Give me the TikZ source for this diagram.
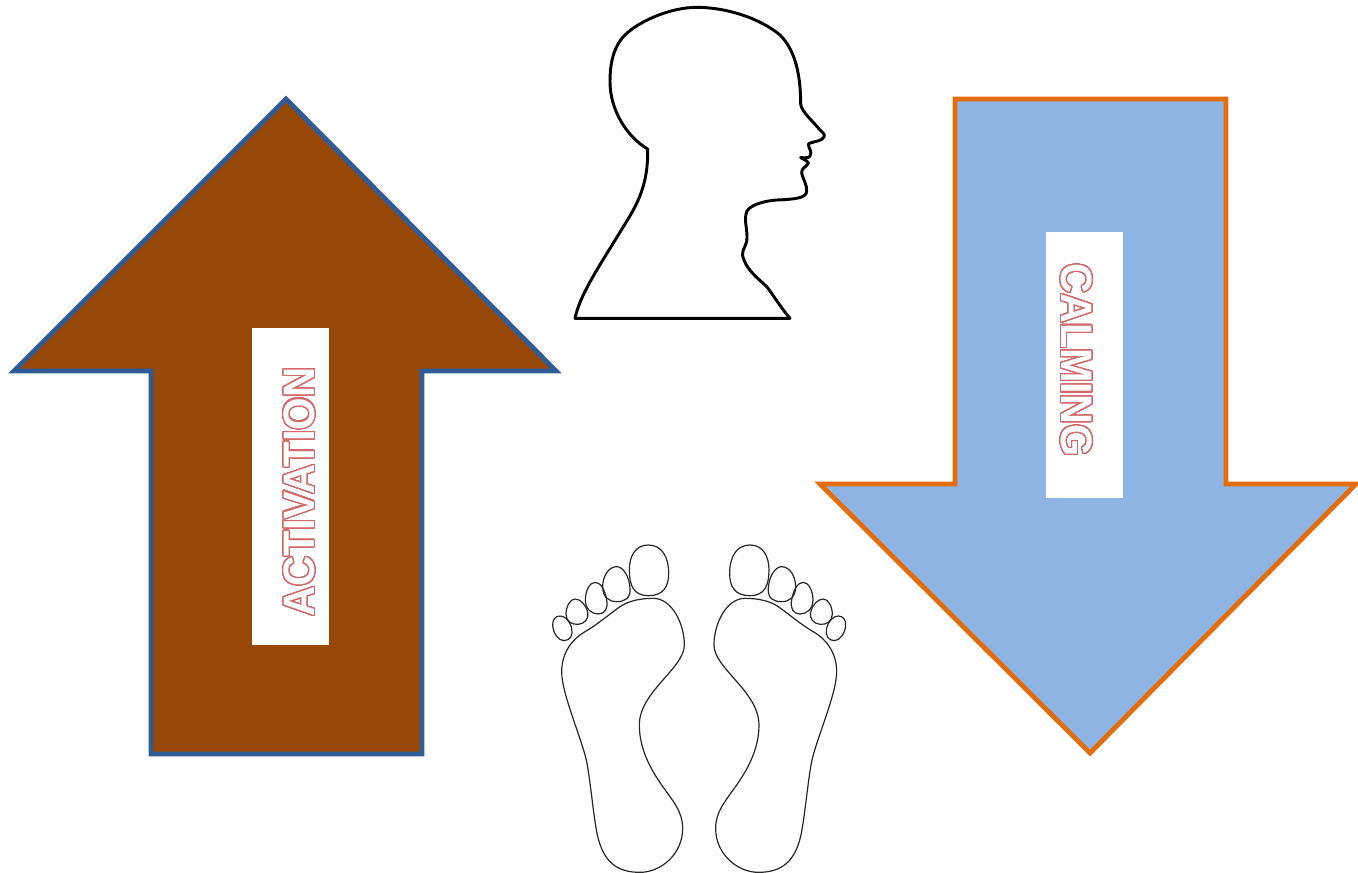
\documentclass[tikz,border=0pt]{standalone}
\usepackage{fontspec}
\usepackage[copies]{contour}
\setmainfont{Liberation Sans}
\contournumber{48}
\contourlength{1.0pt}
\usetikzlibrary{positioning}
\definecolor{upfill}{HTML}{974706}
\definecolor{upline}{HTML}{2F5C96}
\definecolor{downfill}{HTML}{8EB4E3}
\definecolor{downline}{HTML}{E46C0A}
\definecolor{wordline}{HTML}{D4686A}
\tikzset{
 bigarrow/.style={line width=3.6pt,miter limit=10},
 wordbox/.style={fill=white,draw=none,inner sep=0pt,minimum width=#1*0.75pt,minimum height=57.75pt},
 word/.style={inner sep=0pt,font=\fontsize{33}{33}\selectfont\bfseries,text=white},
 headline/.style={line width=2.2pt,line join=round},
 footline/.style={line width=0.9pt,line join=round,draw=black!85},
}
\newcommand{\hollow}[1]{\contour{wordline}{\textcolor{white}{#1}}}
\begin{document}
\begin{tikzpicture}[x=0.75pt,y=-0.75pt]
\useasboundingbox (0,0) rectangle (1358,873);
% arrows
\draw[bigarrow,draw=upline,fill=upfill] (286,99) -- (14,371) -- (151,371) -- (151,754) -- (422,754) -- (422,371) -- (556,371) -- cycle;
\draw[bigarrow,draw=downline,fill=downfill] (955,99) -- (1226,99) -- (1226,484) -- (1356,484) -- (1090,753) -- (820,484) -- (955,484) -- cycle;
\node[wordbox=317,rotate=90] (actbox) at (290.5,486.5) {};
\node[wordbox=266,rotate=90] (calmbox) at (1084.5,365) {};
\node[word,rotate=90,xscale=0.95] (actword) at (300,492) {\hollow{ACTIVATION}};
\node[word,rotate=-90,xscale=0.94] (calmword) at (1076,360) {\hollow{CALMING}};
% head
\begin{scope}[shift={(560,0)},x=0.25pt,y=-0.25pt]
\draw[headline,fill=white] (45,955) .. controls (60,880) and (130,780) .. (190,680)
 .. controls (235,610) and (265,550) .. (263,447)
 .. controls (200,410) and (150,330) .. (150,245)
 .. controls (150,190) and (160,140) .. (195,105)
 .. controls (235,65) and (330,22) .. (410,22)
 .. controls (500,22) and (600,55) .. (660,105)
 .. controls (700,145) and (722,210) .. (722,312)
 .. controls (724,335) and (760,365) .. (780,390)
 .. controls (792,402) and (800,405) .. (785,418)
 .. controls (775,425) and (755,425) .. (745,432)
 .. controls (745,445) and (758,455) .. (750,468)
 .. controls (748,475) and (735,473) .. (722,473)
 .. controls (735,480) and (745,485) .. (745,490)
 .. controls (740,500) and (722,505) .. (725,520)
 .. controls (728,535) and (742,555) .. (740,575)
 .. controls (738,595) and (700,598) .. (650,600)
 .. controls (610,603) and (570,615) .. (560,635)
 .. controls (550,665) and (565,690) .. (560,725)
 .. controls (555,745) and (540,755) .. (552,780)
 .. controls (565,815) and (600,840) .. (620,860)
 .. controls (640,885) and (660,920) .. (690,955) -- cycle;
\end{scope}
% feet
\foreach \ox/\sx in {540/1,858.3/-1}
{
 \begin{scope}[shift={(\ox,535)},x=\sx*0.25pt,y=-0.25pt]
 \draw[footline] (340,190) .. controls (395,190) and (433,265) .. (433,330)
  .. controls (433,400) and (298,470) .. (298,570)
  .. controls (298,640) and (330,700) .. (365,750)
  .. controls (400,800) and (428,830) .. (428,880)
  .. controls (428,960) and (360,1012) .. (300,1012)
  .. controls (230,1012) and (190,980) .. (172,900)
  .. controls (160,840) and (155,770) .. (142,690)
  .. controls (130,620) and (65,480) .. (65,410)
  .. controls (65,350) and (100,310) .. (135,290)
  .. controls (170,270) and (205,240) .. (240,215)
  .. controls (265,198) and (300,190) .. (340,190) -- cycle;
 \draw[footline] (325,30) .. controls (285,30) and (268,65) .. (268,105) .. controls (268,150) and (280,182) .. (325,182) .. controls (370,182) and (386,155) .. (386,115) .. controls (386,65) and (365,30) .. (325,30) -- cycle;
 \draw[footline] (230,95) .. controls (205,95) and (188,125) .. (188,155) .. controls (188,185) and (205,200) .. (230,200) .. controls (255,200) and (272,190) .. (270,160) .. controls (268,125) and (250,95) .. (230,95) -- cycle;
 \draw[footline] (165,142) .. controls (148,142) and (136,170) .. (136,195) .. controls (136,222) and (155,237) .. (175,237) .. controls (195,237) and (205,220) .. (200,195) .. controls (195,165) and (182,142) .. (165,142) -- cycle;
 \draw[footline] (105,192) .. controls (90,192) and (78,215) .. (78,238) .. controls (78,258) and (95,270) .. (115,268) .. controls (135,266) and (147,250) .. (143,232) .. controls (138,210) and (122,192) .. (105,192) -- cycle;
 \draw[footline] (60,243) .. controls (45,243) and (37,255) .. (38,272) .. controls (40,295) and (55,317) .. (72,317) .. controls (90,317) and (100,300) .. (95,280) .. controls (90,258) and (75,243) .. (60,243) -- cycle;
 \end{scope}
}
\end{tikzpicture}
\end{document}
